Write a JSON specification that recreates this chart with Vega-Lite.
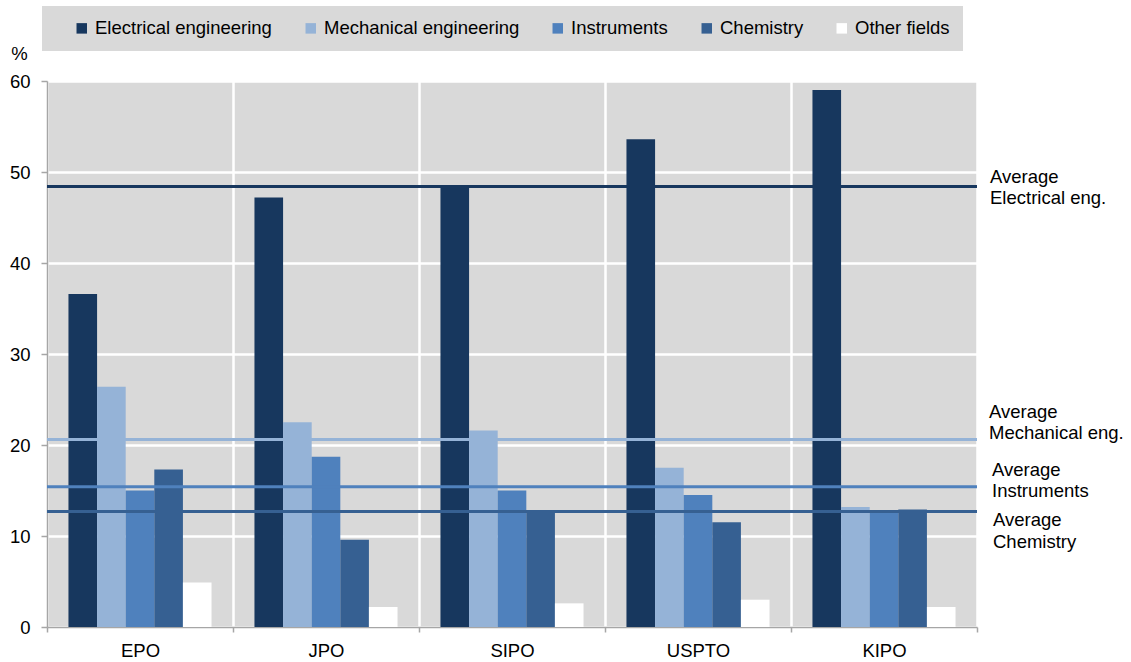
{
  "$schema": "https://vega.github.io/schema/vega-lite/v6.json",
  "width": 930,
  "height": 546,
  "autosize": {"type": "none"},
  "padding": {"left": 47, "top": 81, "right": 154, "bottom": 35},
  "background": "white",
  "config": {
    "view": {"fill": "#D9D9D9", "stroke": null},
    "font": "Liberation Sans"
  },
  "datasets": {
    "bars": [
      {"office": "EPO", "field": "Electrical engineering", "value": 36.6},
      {"office": "EPO", "field": "Mechanical engineering", "value": 26.4},
      {"office": "EPO", "field": "Instruments", "value": 15.0},
      {"office": "EPO", "field": "Chemistry", "value": 17.3},
      {"office": "EPO", "field": "Other fields", "value": 4.9},
      {"office": "JPO", "field": "Electrical engineering", "value": 47.2},
      {"office": "JPO", "field": "Mechanical engineering", "value": 22.5},
      {"office": "JPO", "field": "Instruments", "value": 18.7},
      {"office": "JPO", "field": "Chemistry", "value": 9.6},
      {"office": "JPO", "field": "Other fields", "value": 2.2},
      {"office": "SIPO", "field": "Electrical engineering", "value": 48.4},
      {"office": "SIPO", "field": "Mechanical engineering", "value": 21.6},
      {"office": "SIPO", "field": "Instruments", "value": 15.0},
      {"office": "SIPO", "field": "Chemistry", "value": 12.6},
      {"office": "SIPO", "field": "Other fields", "value": 2.6},
      {"office": "USPTO", "field": "Electrical engineering", "value": 53.6},
      {"office": "USPTO", "field": "Mechanical engineering", "value": 17.5},
      {"office": "USPTO", "field": "Instruments", "value": 14.5},
      {"office": "USPTO", "field": "Chemistry", "value": 11.5},
      {"office": "USPTO", "field": "Other fields", "value": 3.0},
      {"office": "KIPO", "field": "Electrical engineering", "value": 59.0},
      {"office": "KIPO", "field": "Mechanical engineering", "value": 13.2},
      {"office": "KIPO", "field": "Instruments", "value": 12.6},
      {"office": "KIPO", "field": "Chemistry", "value": 12.9},
      {"office": "KIPO", "field": "Other fields", "value": 2.2}
    ],
    "avg": [
      {"field": "Electrical engineering", "avg": 48.4, "label": "Average\nElectrical eng."},
      {"field": "Mechanical engineering", "avg": 20.6, "label": "Average\nMechanical eng."},
      {"field": "Instruments", "avg": 15.4, "label": "Average\nInstruments"},
      {"field": "Chemistry", "avg": 12.7, "label": "Average\nChemistry"}
    ]
  },
  "layer": [
    {
      "data": {"name": "bars"},
      "mark": {"type": "bar"},
      "encoding": {
        "x": {
          "field": "office", "type": "nominal",
          "sort": ["EPO", "JPO", "SIPO", "USPTO", "KIPO"],
          "scale": {"paddingInner": 0, "paddingOuter": 0},
          "axis": {
            "title": null, "labelAngle": 0, "labelFontSize": 18.5, "labelColor": "black",
            "labelPadding": 9, "tickSize": 5, "tickBand": "extent",
            "domainColor": "#A6A6A6", "tickColor": "#A6A6A6", "domainWidth": 1.5, "tickWidth": 1.5,
            "grid": true, "gridColor": "white", "gridWidth": 2.5
          }
        },
        "xOffset": {
          "field": "field", "type": "nominal",
          "sort": ["Electrical engineering", "Mechanical engineering", "Instruments", "Chemistry", "Other fields"],
          "scale": {"paddingInner": 0, "paddingOuter": 0.75}
        },
        "y": {
          "field": "value", "type": "quantitative",
          "scale": {"domain": [0, 60], "nice": false},
          "axis": {
            "title": "%", "titleAngle": 0, "titleX": -28, "titleY": -22, "titleAlign": "center",
            "titleBaseline": "alphabetic", "titleFontWeight": "normal", "titleFontSize": 18.5, "titleColor": "black",
            "values": [0, 10, 20, 30, 40, 50, 60],
            "labelFontSize": 18.5, "labelColor": "black", "labelPadding": 11, "tickSize": 6,
            "domainColor": "#A6A6A6", "tickColor": "#A6A6A6", "domainWidth": 1.5, "tickWidth": 1.5,
            "grid": true, "gridColor": "white", "gridWidth": 2.5
          }
        },
        "color": {
          "field": "field", "type": "nominal",
          "sort": ["Electrical engineering", "Mechanical engineering", "Instruments", "Chemistry", "Other fields"],
          "scale": {
            "domain": ["Electrical engineering", "Mechanical engineering", "Instruments", "Chemistry", "Other fields"],
            "range": ["#17375E", "#95B3D7", "#4F81BD", "#366092", "#FFFFFF"]
          },
          "legend": {
            "orient": "none", "legendX": -5, "legendY": -75, "direction": "horizontal",
            "title": " ", "titleOrient": "left", "titleFontSize": 1, "titlePadding": 17.5,
            "fillColor": "#D9D9D9", "padding": 13, "columnPadding": 29,
            "symbolType": "square", "symbolSize": 110, "symbolStrokeWidth": 0,
            "labelFontSize": 18.5, "labelColor": "black", "labelOffset": 4, "labelLimit": 400
          }
        }
      }
    },
    {
      "data": {"name": "avg"},
      "mark": {"type": "rule", "strokeWidth": 3},
      "encoding": {
        "y": {"field": "avg", "type": "quantitative", "title": "%", "scale": {"domain": [0, 60], "nice": false}},
        "color": {"field": "field", "type": "nominal", "legend": null}
      }
    },
    {
      "data": {"name": "avg"},
      "transform": [{"filter": "datum.field === 'Electrical engineering'"}],
      "mark": {"type": "text", "align": "left", "baseline": "alphabetic", "dx": 13, "dy": -4, "lineBreak": "\n", "lineHeight": 21.5, "fontSize": 18.5, "color": "black"},
      "encoding": {
        "x": {"value": "width"},
        "y": {"field": "avg", "type": "quantitative", "title": "%"},
        "text": {"field": "label"}
      }
    },
    {
      "data": {"name": "avg"},
      "transform": [{"filter": "datum.field === 'Mechanical engineering'"}],
      "mark": {"type": "text", "align": "left", "baseline": "alphabetic", "dx": 12, "dy": -22, "lineBreak": "\n", "lineHeight": 21.5, "fontSize": 18.5, "color": "black"},
      "encoding": {
        "x": {"value": "width"},
        "y": {"field": "avg", "type": "quantitative", "title": "%"},
        "text": {"field": "label"}
      }
    },
    {
      "data": {"name": "avg"},
      "transform": [{"filter": "datum.field === 'Instruments'"}],
      "mark": {"type": "text", "align": "left", "baseline": "alphabetic", "dx": 15, "dy": -11, "lineBreak": "\n", "lineHeight": 21.5, "fontSize": 18.5, "color": "black"},
      "encoding": {
        "x": {"value": "width"},
        "y": {"field": "avg", "type": "quantitative", "title": "%"},
        "text": {"field": "label"}
      }
    },
    {
      "data": {"name": "avg"},
      "transform": [{"filter": "datum.field === 'Chemistry'"}],
      "mark": {"type": "text", "align": "left", "baseline": "alphabetic", "dx": 16, "dy": 15, "lineBreak": "\n", "lineHeight": 21.5, "fontSize": 18.5, "color": "black"},
      "encoding": {
        "x": {"value": "width"},
        "y": {"field": "avg", "type": "quantitative", "title": "%"},
        "text": {"field": "label"}
      }
    }
  ]
}
